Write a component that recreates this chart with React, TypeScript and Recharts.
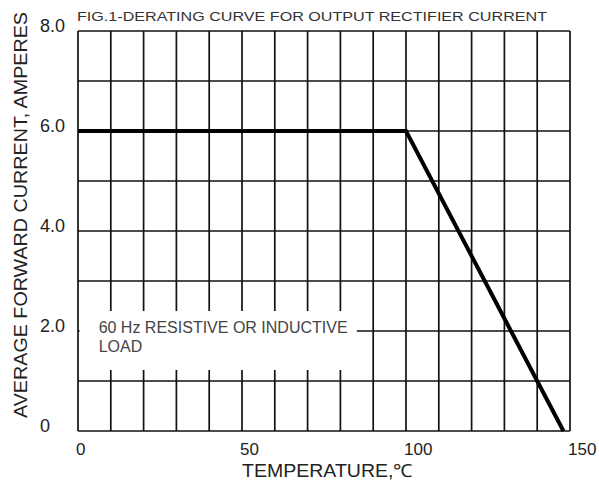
import React from "react";
import {
  LineChart,
  Line,
  XAxis,
  YAxis,
  CartesianGrid,
  ReferenceArea,
} from "recharts";

// derating curve: temperature (°C) vs average forward current (A)
const temps = [0, 100, 148];
const amps = [6, 6, 0];

const xTicks = [0, 10, 20, 30, 40, 50, 60, 70, 80, 90, 100, 110, 120, 130, 140, 150];
const yTicks = [0, 1, 2, 3, 4, 5, 6, 7, 8];
const xLabels: Record<number, string> = { 0: "0", 50: "50", 100: "100", 150: "150" };
const yLabels: Record<number, string> = { 0: "0", 2: "2.0", 4: "4.0", 6: "6.0", 8: "8.0" };

const title = "FIG.1-DERATING CURVE FOR OUTPUT RECTIFIER CURRENT";
const xTitle = "TEMPERATURE,℃";
const yTitle = "AVERAGE FORWARD CURRENT, AMPERES";
const noteLines = ["60 Hz RESISTIVE OR INDUCTIVE", "LOAD"];

const FONT = '"Liberation Sans", Arial, Helvetica, sans-serif';

const data = temps.map((t, i) => ({ t, a: amps[i] }));

function XTick(props: any) {
  const { x, y, payload } = props;
  const label = xLabels[payload.value];
  if (!label) return null;
  return (
    <text x={x - 2} y={y} dy={24} textAnchor="start" fontFamily={FONT} fontSize={17} fill="#222">
      {label}
    </text>
  );
}

function YTick(props: any) {
  const { y, payload } = props;
  const label = yLabels[payload.value];
  if (!label) return null;
  return (
    <text x={40} y={y + 1} textAnchor="start" fontFamily={FONT} fontSize={18} fill="#222">
      {label}
    </text>
  );
}

function XTitle() {
  return (
    <text
      x={242}
      y={477}
      textAnchor="start"
      fontFamily={FONT}
      fontSize={18}
      fill="#222"
      textLength={171}
      lengthAdjust="spacingAndGlyphs"
    >
      {xTitle}
    </text>
  );
}

function YTitle() {
  return (
    <text
      x={27}
      y={215}
      transform="rotate(-90 27 215)"
      textAnchor="middle"
      fontFamily={FONT}
      fontSize={18}
      fill="#222"
      textLength={406}
      lengthAdjust="spacingAndGlyphs"
    >
      {yTitle}
    </text>
  );
}

function NoteLabel(props: any) {
  const vb = props.viewBox || {};
  return (
    <g>
      {noteLines.map((line, i) => (
        <text
          key={i}
          x={vb.x + 19}
          y={vb.y + 22 + i * 19}
          fontFamily={FONT}
          fontSize={16}
          fill="#444"
        >
          {line}
        </text>
      ))}
    </g>
  );
}

export default function App() {
  return (
    <div style={{ position: "absolute", left: 0, top: 0, width: 599, height: 485, background: "#fff" }}>
      <LineChart
        width={599}
        height={485}
        data={data}
        margin={{ top: 31, right: 29, bottom: 0, left: 0 }}
      >
        <CartesianGrid stroke="#111" strokeWidth={1.7} />
        <XAxis
          dataKey="t"
          type="number"
          domain={[0, 150]}
          ticks={xTicks}
          interval={0}
          height={54}
          axisLine={false}
          tickLine={false}
          tickSize={0}
          tickMargin={0}
          tick={<XTick />}
          label={<XTitle />}
        />
        <YAxis
          type="number"
          domain={[0, 8]}
          ticks={yTicks}
          interval={0}
          width={78}
          axisLine={false}
          tickLine={false}
          tickSize={0}
          tick={<YTick />}
          label={<YTitle />}
        />
        <ReferenceArea
          x1={0.5}
          x2={85}
          y1={1.22}
          y2={2.4}
          fill="#fff"
          fillOpacity={1}
          stroke="none"
          label={<NoteLabel />}
        />
        <Line
          type="linear"
          dataKey="a"
          stroke="#000"
          strokeWidth={4}
          dot={false}
          isAnimationActive={false}
        />
      </LineChart>
      <svg
        width={599}
        height={485}
        style={{ position: "absolute", left: 0, top: 0, pointerEvents: "none" }}
      >
        <text
          x={77}
          y={21}
          fontFamily={FONT}
          fontSize={13}
          fill="#333"
          textLength={470}
          lengthAdjust="spacingAndGlyphs"
        >
          {title}
        </text>
      </svg>
    </div>
  );
}
